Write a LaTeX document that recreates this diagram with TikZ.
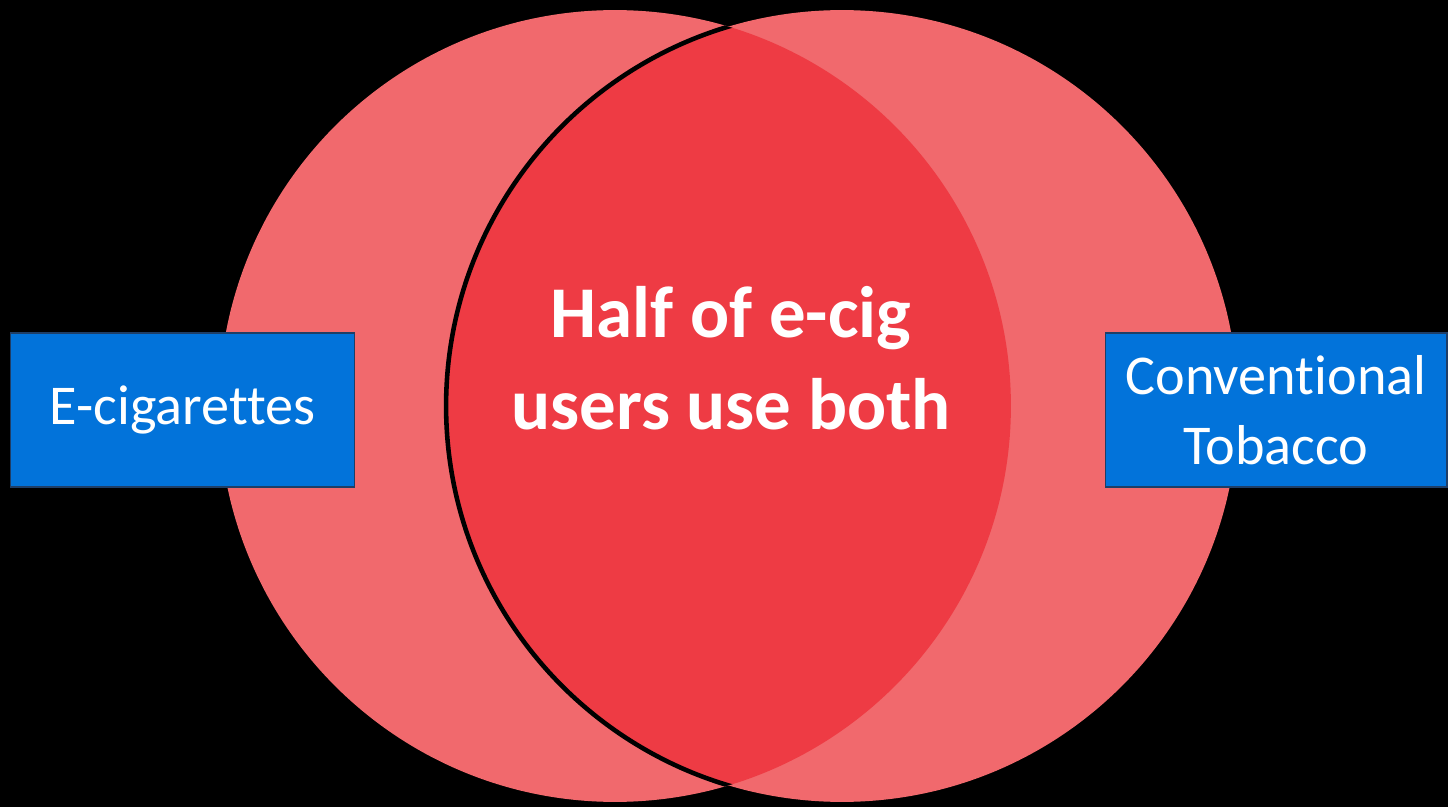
\documentclass[tikz,border=0pt]{standalone}
\usepackage{fontspec}
\setmainfont{Carlito}[Ligatures={NoCommon}]
\usetikzlibrary{calc}
\definecolor{lightred}{HTML}{F1696D}
\definecolor{darkred}{HTML}{EE3B44}
\definecolor{boxblue}{HTML}{0273DA}
\definecolor{boxline}{HTML}{1F3E66}

\begin{document}
\begin{tikzpicture}[x=0.02cm,y=-0.02cm,
  setbox/.style={draw=boxline,line width=0.6pt,fill=boxblue,text=white,
    minimum height=3.08cm,inner sep=0pt,align=center,
    font=\fontsize{32}{39.8}\selectfont},
  bothtext/.style={text=white,align=center,
    font=\fontsize{41.5}{52.3}\selectfont\bfseries}]
\fill[black] (0,0) rectangle (1448,807);
\useasboundingbox (0,0) rectangle (1448,807);
\coordinate[] (L) at (615,406);
\coordinate[] (R) at (842,406);
\fill [lightred] (L) circle (7.92cm);
\fill [lightred] (R) circle (7.92cm);
\begin{scope}
\clip (L) circle (7.92cm);
\fill [darkred] (R) circle (7.92cm);
\draw [black,line width=2.6pt] (R) circle (7.92cm);
\end{scope}
\node[bothtext] (both) at (731,358) {Half of e-cig\\users use both};
\node[setbox,minimum width=6.9cm] (ecig) at (182.5,410) {E-cigarettes};
\node[setbox,minimum width=6.84cm] (tob) at (1276,410) {Conventional\\Tobacco};
\end{tikzpicture}
\end{document}
